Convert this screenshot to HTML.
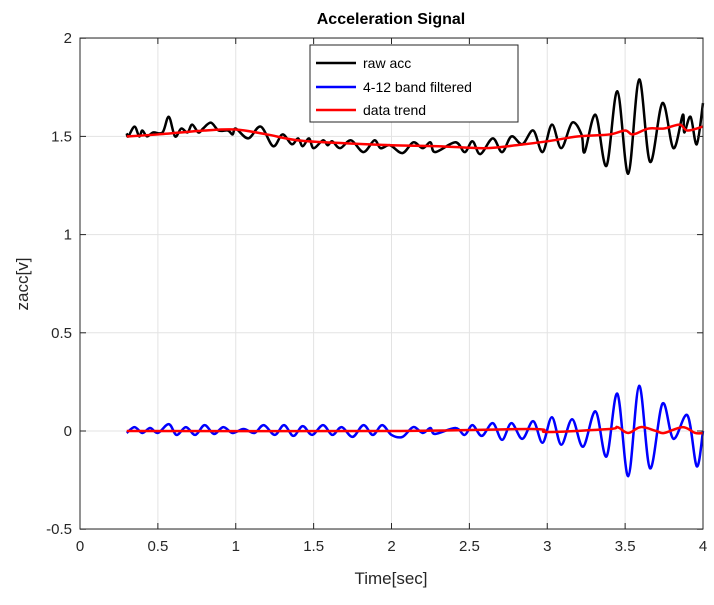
<!DOCTYPE html>
<html><head><meta charset="utf-8">
<style>
body{margin:0;background:#fff;font-family:"Liberation Sans",Arial,sans-serif;}
svg text{font-family:"Liberation Sans",Arial,sans-serif;}
</style></head>
<body>
<svg id="chart" width="714" height="600" xmlns="http://www.w3.org/2000/svg">
<rect x="0" y="0" width="714" height="600" fill="#fff"/>
<g id="grid"></g>
<g id="series"></g>
<rect x="80" y="38" width="623" height="491" fill="none" stroke="#262626" stroke-width="1"/>
<g id="ticks"></g>
<text x="391" y="24" text-anchor="middle" font-size="16" font-weight="bold" fill="#000">Acceleration Signal</text>
<text x="391" y="584" text-anchor="middle" font-size="17" fill="#262626">Time[sec]</text>
<text x="28" y="284" text-anchor="middle" font-size="17" fill="#262626" transform="rotate(-90 28 284)">zacc[v]</text>
<g>
<rect x="310" y="45" width="208" height="77" fill="#fff" stroke="#262626" stroke-width="1"/>
<line x1="316" y1="63" x2="356" y2="63" stroke="#000" stroke-width="2.5"/>
<text x="363" y="68" font-size="14" fill="#000">raw acc</text>
<line x1="316" y1="87" x2="356" y2="87" stroke="#0000ff" stroke-width="2.5"/>
<text x="363" y="92" font-size="14" fill="#000">4-12 band filtered</text>
<line x1="316" y1="110" x2="356" y2="110" stroke="#ff0000" stroke-width="2.5"/>
<text x="363" y="115" font-size="14" fill="#000">data trend</text>
</g>
</svg>
<script>
const xTicks=[0,0.5,1,1.5,2,2.5,3,3.5,4];
const yTicks=[-0.5,0,0.5,1,1.5,2];
const rawT=[0.3,0.31,0.35,0.38,0.40,0.43,0.47,0.53,0.57,0.61,0.65,0.69,0.72,0.76,0.79,0.84,0.89,0.95,0.98,1.0,1.08,1.16,1.24,1.30,1.36,1.40,1.43,1.47,1.50,1.56,1.59,1.62,1.67,1.74,1.82,1.89,1.93,1.99,2.07,2.14,2.20,2.25,2.28,2.41,2.47,2.52,2.57,2.65,2.71,2.77,2.84,2.91,2.97,3.03,3.09,3.16,3.22,3.24,3.31,3.38,3.45,3.52,3.59,3.66,3.74,3.81,3.87,3.88,3.92,3.96,4.0];
const rawV=[1.516,1.50,1.55,1.50,1.53,1.50,1.52,1.52,1.60,1.50,1.54,1.52,1.56,1.52,1.54,1.57,1.53,1.53,1.51,1.54,1.49,1.55,1.45,1.51,1.46,1.49,1.45,1.49,1.44,1.48,1.455,1.475,1.44,1.48,1.42,1.48,1.44,1.455,1.415,1.47,1.44,1.47,1.42,1.47,1.42,1.475,1.41,1.49,1.42,1.50,1.46,1.53,1.42,1.56,1.44,1.57,1.51,1.42,1.61,1.35,1.73,1.31,1.79,1.37,1.67,1.44,1.61,1.52,1.60,1.46,1.67];
const bandT=[0.3,0.35,0.40,0.45,0.5,0.57,0.62,0.68,0.74,0.80,0.86,0.92,0.98,1.05,1.12,1.18,1.25,1.31,1.37,1.43,1.49,1.56,1.62,1.68,1.75,1.82,1.88,1.94,2.0,2.07,2.14,2.20,2.25,2.28,2.41,2.47,2.52,2.58,2.65,2.71,2.77,2.84,2.91,2.97,3.03,3.09,3.16,3.23,3.31,3.38,3.45,3.52,3.59,3.66,3.74,3.81,3.90,3.96,4.0];
const bandV=[-0.01,0.02,-0.01,0.015,-0.01,0.035,-0.02,0.02,-0.02,0.03,-0.015,0.02,-0.01,0.01,-0.01,0.03,-0.02,0.03,-0.025,0.025,-0.02,0.03,-0.02,0.02,-0.03,0.03,-0.02,0.03,-0.02,-0.03,0.02,-0.01,0.015,-0.015,0.015,-0.02,0.03,-0.025,0.04,-0.045,0.04,-0.04,0.05,-0.06,0.07,-0.07,0.06,-0.08,0.10,-0.13,0.19,-0.23,0.23,-0.19,0.14,-0.04,0.08,-0.18,0.0];
const trendT=[0.3,0.5,0.8,1.0,1.2,1.4,1.7,2.0,2.3,2.6,2.8,3.0,3.2,3.4,3.5,3.55,3.65,3.75,3.85,3.9,4.0];
const trendV=[1.50,1.51,1.53,1.535,1.51,1.48,1.465,1.455,1.45,1.44,1.455,1.475,1.50,1.51,1.53,1.51,1.54,1.54,1.56,1.53,1.55];
const trend0T=[0.3,2.0,2.9,3.0,3.4,3.45,3.52,3.6,3.7,3.75,3.87,3.95,4.0];
const trend0V=[0,0,0.01,-0.005,0.01,0.02,-0.01,0.02,0,-0.01,0.02,-0.01,-0.01];

const X=t=>80+t*155.75;
const Y=v=>431-v*196.4;
const NS="http://www.w3.org/2000/svg";
const grid=document.getElementById('grid'),ticks=document.getElementById('ticks'),series=document.getElementById('series');
function mk(tag,attrs,parent){const e=document.createElementNS(NS,tag);for(const k in attrs)e.setAttribute(k,attrs[k]);parent.appendChild(e);return e;}
xTicks.forEach(t=>{
  const l=mk('line',{x1:X(t),x2:X(t),y1:38,y2:529,stroke:'#e3e3e3','stroke-width':1},grid);
  
  
  mk('line',{x1:X(t),x2:X(t),y1:529,y2:523,stroke:'#262626'},ticks);
  mk('line',{x1:X(t),x2:X(t),y1:38,y2:44,stroke:'#262626'},ticks);
  const tx=mk('text',{x:X(t),y:551,'text-anchor':'middle','font-size':15,fill:'#262626'},ticks);
  tx.textContent=String(t);
  
  
});
yTicks.forEach(v=>{
  const l=mk('line',{x1:80,x2:703,y1:Y(v),y2:Y(v),stroke:'#e3e3e3','stroke-width':1},grid);
  
  
  mk('line',{x1:80,x2:86,y1:Y(v),y2:Y(v),stroke:'#262626'},ticks);
  mk('line',{x1:697,x2:703,y1:Y(v),y2:Y(v),stroke:'#262626'},ticks);
  const tx=mk('text',{x:72,y:Y(v)+5,'text-anchor':'end','font-size':15,fill:'#262626'},ticks);
  tx.textContent=String(v);
  
  
});
function smooth(ts,vs){
  const p=ts.map((t,i)=>[X(t),Y(vs[i])]);
  let d='M'+p[0][0]+','+p[0][1];
  for(let i=0;i<p.length-1;i++){
    const p0=p[Math.max(0,i-1)],p1=p[i],p2=p[i+1],p3=p[Math.min(p.length-1,i+2)];
    const c1=[p1[0]+(p2[0]-p0[0])/6,p1[1]+(p2[1]-p0[1])/6];
    const c2=[p2[0]-(p3[0]-p1[0])/6,p2[1]-(p3[1]-p1[1])/6];
    d+=' C'+c1[0]+','+c1[1]+' '+c2[0]+','+c2[1]+' '+p2[0]+','+p2[1];
  }
  return d;
}
const s1=mk('path',{d:smooth(rawT,rawV),fill:'none',stroke:'#000','stroke-width':2.5},series);


const s2=mk('path',{d:smooth(bandT,bandV),fill:'none',stroke:'#0000ff','stroke-width':2.5},series);


const s3=mk('path',{d:smooth(trendT,trendV),fill:'none',stroke:'#ff0000','stroke-width':2.5},series);


const s4=mk('path',{d:smooth(trend0T,trend0V),fill:'none',stroke:'#ff0000','stroke-width':2.5},series);


</script>
</body></html>
